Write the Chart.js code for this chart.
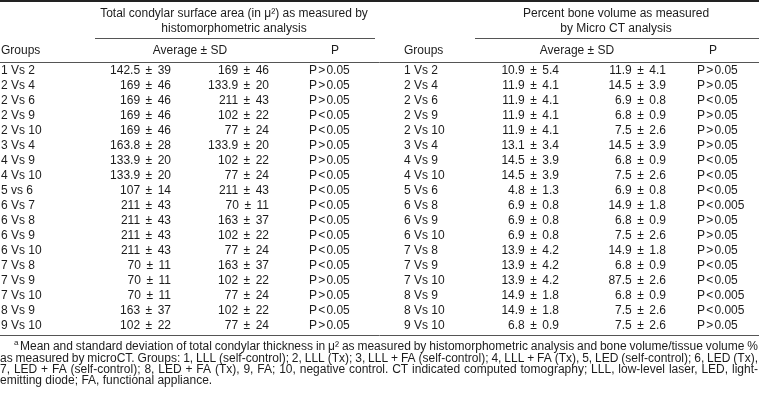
<!doctype html>
<html lang="en">
	<head>
		<meta charset="UTF-8" />
		<title>Condylar surface area and bone volume</title>
		<script src="https://cdn.jsdelivr.net/npm/chart.js"></script>
		<style>
			body {
				margin: 0;
				background: #fff;
			}
			#wrap {
				width: 759px;
				height: 400px;
			}
		</style>
	</head>
	<body>
		<div id="wrap"><canvas id="table" width="759" height="400"></canvas></div>

		<script>
			// Left block: histomorphometric surface area
			const leftGroups = ['1 Vs 2', '2 Vs 4', '2 Vs 6', '2 Vs 9', '2 Vs 10', '3 Vs 4', '4 Vs 9', '4 Vs 10', '5 vs 6',
				'6 Vs 7', '6 Vs 8', '6 Vs 9', '6 Vs 10', '7 Vs 8', '7 Vs 9', '7 Vs 10', '8 Vs 9', '9 Vs 10']
			const leftAvgA = ['142.5 ± 39', '169 ± 46', '169 ± 46', '169 ± 46', '169 ± 46', '163.8 ± 28', '133.9 ± 20', '133.9 ± 20', '107 ± 14',
				'211 ± 43', '211 ± 43', '211 ± 43', '211 ± 43', '70 ± 11', '70 ± 11', '70 ± 11', '163 ± 37', '102 ± 22']
			const leftAvgB = ['169 ± 46', '133.9 ± 20', '211 ± 43', '102 ± 22', '77 ± 24', '133.9 ± 20', '102 ± 22', '77 ± 24', '211 ± 43',
				'70 ± 11', '163 ± 37', '102 ± 22', '77 ± 24', '163 ± 37', '102 ± 22', '77 ± 24', '102 ± 22', '77 ± 24']
			const leftP = ['P>0.05', 'P>0.05', 'P>0.05', 'P<0.05', 'P<0.05', 'P>0.05', 'P>0.05', 'P<0.05', 'P<0.05',
				'P<0.05', 'P<0.05', 'P<0.05', 'P<0.05', 'P<0.05', 'P>0.05', 'P>0.05', 'P<0.05', 'P>0.05']

			// Right block: micro CT bone volume
			const rightGroups = ['1 Vs 2', '2 Vs 4', '2 Vs 6', '2 Vs 9', '2 Vs 10', '3 Vs 4', '4 Vs 9', '4 Vs 10', '5 Vs 6',
				'6 Vs 8', '6 Vs 9', '6 Vs 10', '7 Vs 8', '7 Vs 9', '7 Vs 10', '8 Vs 9', '8 Vs 10', '9 Vs 10']
			const rightAvgA = ['10.9 ± 5.4', '11.9 ± 4.1', '11.9 ± 4.1', '11.9 ± 4.1', '11.9 ± 4.1', '13.1 ± 3.4', '14.5 ± 3.9', '14.5 ± 3.9', '4.8 ± 1.3',
				'6.9 ± 0.8', '6.9 ± 0.8', '6.9 ± 0.8', '13.9 ± 4.2', '13.9 ± 4.2', '13.9 ± 4.2', '14.9 ± 1.8', '14.9 ± 1.8', '6.8 ± 0.9']
			const rightAvgB = ['11.9 ± 4.1', '14.5 ± 3.9', '6.9 ± 0.8', '6.8 ± 0.9', '7.5 ± 2.6', '14.5 ± 3.9', '6.8 ± 0.9', '7.5 ± 2.6', '6.9 ± 0.8',
				'14.9 ± 1.8', '6.8 ± 0.9', '7.5 ± 2.6', '14.9 ± 1.8', '6.8 ± 0.9', '87.5 ± 2.6', '6.8 ± 0.9', '7.5 ± 2.6', '7.5 ± 2.6']
			const rightP = ['P>0.05', 'P>0.05', 'P<0.05', 'P>0.05', 'P>0.05', 'P>0.05', 'P<0.05', 'P<0.05', 'P<0.05',
				'P<0.005', 'P>0.05', 'P>0.05', 'P>0.05', 'P<0.05', 'P<0.05', 'P<0.005', 'P<0.005', 'P>0.05']

			const headerLeft = ['Total condylar surface area (in μ²) as measured by', 'histomorphometric analysis']
			const headerRight = ['Percent bone volume as measured', 'by Micro CT analysis']
			const colHeads = ['Groups', 'Average ± SD', 'P']

			const footnote = [
				'Mean and standard deviation of total condylar thickness in μ² as measured by histomorphometric analysis and bone volume/tissue volume %',
				'as measured by microCT. Groups: 1, LLL (self-control); 2, LLL (Tx); 3, LLL + FA (self-control); 4, LLL + FA (Tx), 5, LED (self-control); 6, LED (Tx),',
				'7, LED + FA (self-control); 8, LED + FA (Tx), 9, FA; 10, negative control. CT indicated computed tomography; LLL, low-level laser, LED, light-',
				'emitting diode; FA, functional appliance.'
			]

			const font = '"Liberation Sans", Arial, sans-serif'
			const ink = '#1c1c1c'

			// layout of the two blocks (x in pixels along the x scale)
			const blocks = [
				{ groups: leftGroups, a: leftAvgA, b: leftAvgB, p: leftP, head: headerLeft,
					xGroup: 1, xA: 171, xB: 269, xP: 309, xHead: 234, xAvgHead: 190, xPHead: 335, ruleFrom: 95, ruleTo: 375 },
				{ groups: rightGroups, a: rightAvgA, b: rightAvgB, p: rightP, head: headerRight,
					xGroup: 404, xA: 559, xB: 666, xP: 697, xHead: 616, xAvgHead: 577, xPHead: 713, ruleFrom: 475, ruleTo: 759 }
			]
			const rowTop = 71
			const rowStep = 15
			const pmGap = 5.5 // space either side of ±
			const cmpGap = 1.2 // space either side of < and >

			function hline(ctx, xs, ys, x0, x1, y0, width, color) {
				const py = Math.round(ys.getPixelForValue(y0)) + (width % 2 ? 0.5 : 0)
				ctx.beginPath()
				ctx.lineWidth = width
				ctx.strokeStyle = color
				ctx.moveTo(xs.getPixelForValue(x0), py)
				ctx.lineTo(xs.getPixelForValue(x1), py)
				ctx.stroke()
			}

			function text(ctx, xs, ys, str, x, y, align) {
				ctx.textAlign = align
				ctx.fillText(str, xs.getPixelForValue(x), ys.getPixelForValue(y))
			}

			// "mean ± sd", right aligned at x, with wider gaps round the sign
			function meanSd(ctx, xs, ys, str, x, y) {
				const [m, s] = str.split(' ± ')
				let px = xs.getPixelForValue(x)
				const py = ys.getPixelForValue(y)
				ctx.textAlign = 'right'
				ctx.fillText(s, px, py)
				px -= ctx.measureText(s).width + pmGap
				ctx.fillText('±', px, py)
				px -= ctx.measureText('±').width + pmGap
				ctx.fillText(m, px, py)
			}

			// "P<0.05", left aligned at x
			function pValue(ctx, xs, ys, str, x, y) {
				let px = xs.getPixelForValue(x)
				const py = ys.getPixelForValue(y)
				ctx.textAlign = 'left'
				const parts = [str[0], str[1], str.slice(2)]
				parts.forEach((t, i) => {
					ctx.fillText(t, px, py)
					px += ctx.measureText(t).width + (i < 2 ? cmpGap : 0)
				})
			}

			// draws one line spread across a width, spaces widened evenly
			function justify(ctx, xs, ys, str, x0, x1, y) {
				const words = str.split(' ')
				const used = words.reduce((s, w) => s + ctx.measureText(w).width, 0)
				const left = xs.getPixelForValue(x0)
				const gap = (xs.getPixelForValue(x1) - left - used) / (words.length - 1)
				let px = left
				ctx.textAlign = 'left'
				words.forEach((w) => {
					ctx.fillText(w, px, ys.getPixelForValue(y))
					px += ctx.measureText(w).width + gap
				})
			}

			const tablePlugin = {
				id: 'tablePlugin',
				afterDraw(chart) {
					const ctx = chart.ctx
					const xs = chart.scales.x
					const ys = chart.scales.y
					ctx.save()
					ctx.fillStyle = ink
					ctx.textBaseline = 'middle'

					hline(ctx, xs, ys, 0, 759, 1, 2, '#222')
					hline(ctx, xs, ys, 0, 759, 62, 1, '#555')
					hline(ctx, xs, ys, 0, 759, 335, 1, '#555')

					ctx.font = '12px ' + font
					blocks.forEach((b) => {
						text(ctx, xs, ys, b.head[0], b.xHead, 14, 'center')
						text(ctx, xs, ys, b.head[1], b.xHead, 29, 'center')
						hline(ctx, xs, ys, b.ruleFrom, b.ruleTo, 38, 1, '#555')
						text(ctx, xs, ys, colHeads[0], b.xGroup, 51, 'left')
						text(ctx, xs, ys, colHeads[1], b.xAvgHead, 51, 'center')
						text(ctx, xs, ys, colHeads[2], b.xPHead, 51, 'center')
						b.groups.forEach((g, i) => {
							const y = rowTop + i * rowStep
							text(ctx, xs, ys, g, b.xGroup, y, 'left')
							meanSd(ctx, xs, ys, b.a[i], b.xA, y)
							meanSd(ctx, xs, ys, b.b[i], b.xB, y)
							pValue(ctx, xs, ys, b.p[i], b.xP, y)
						})
					})

					// footnote
					ctx.font = '8px ' + font
					text(ctx, xs, ys, 'a', 14, 343, 'left')
					ctx.font = '12px ' + font
					justify(ctx, xs, ys, footnote[0], 20, 758, 347)
					justify(ctx, xs, ys, footnote[1], 0, 758, 358.3)
					justify(ctx, xs, ys, footnote[2], 0, 758, 369.6)
					text(ctx, xs, ys, footnote[3], 0, 381, 'left')
					ctx.restore()
				}
			}

			new Chart(document.getElementById('table'), {
				type: 'scatter',
				data: { datasets: [{ data: [], pointRadius: 0 }] },
				options: {
					responsive: false,
					devicePixelRatio: 1,
					animation: false,
					layout: { padding: 0 },
					plugins: { legend: { display: false }, tooltip: { enabled: false } },
					scales: {
						x: { type: 'linear', min: 0, max: 759, display: false },
						y: { type: 'linear', min: 0, max: 400, reverse: true, display: false }
					}
				},
				plugins: [tablePlugin]
			})
		</script>
	</body>
</html>
